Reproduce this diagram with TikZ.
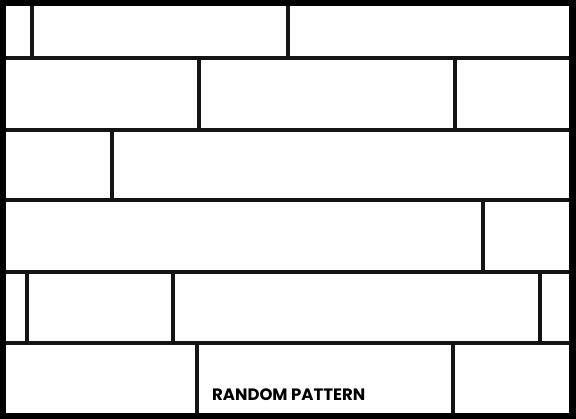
\documentclass[tikz,border=0pt]{standalone}
\usepackage{fontspec}
\setmainfont{Poppins}
\usepackage{tikz}
\tikzset{every picture/.style={
  x=1pt, y=-1pt                 % Pixel units, y downwards.
  }
}

\begin{document}
\begin{tikzpicture}[
        joint/.style={
          line width=4.5pt,
          color=black!92
        },
        caption/.style={
          anchor=base west,
          inner sep=0pt,
          font=\fontsize{16.5}{18}\selectfont\bfseries
        }]

        % Outer frame.
        \fill[black] (0,0) rectangle (576,419);
        \fill[white] (6,6) rectangle (569,413);

        % Horizontal joints between the rows.
        \foreach \y in {58,130,200,272,343}
          \draw[joint] (6,\y) -- (569,\y);

        % Vertical joints, one row at a time.
        \foreach \x in {32,288}      \draw[joint] (\x,6)   -- (\x,58);
        \foreach \x in {199,455}     \draw[joint] (\x,58)  -- (\x,130);
        \foreach \x in {112}         \draw[joint] (\x,130) -- (\x,200);
        \foreach \x in {483}         \draw[joint] (\x,200) -- (\x,272);
        \foreach \x in {27,173,540}  \draw[joint] (\x,272) -- (\x,343);
        \foreach \x in {197,453}     \draw[joint] (\x,343) -- (\x,413);

        % Add Label.
        \node[caption] (label) at (212,400.5) {RANDOM PATTERN};
      \end{tikzpicture}
\end{document}
